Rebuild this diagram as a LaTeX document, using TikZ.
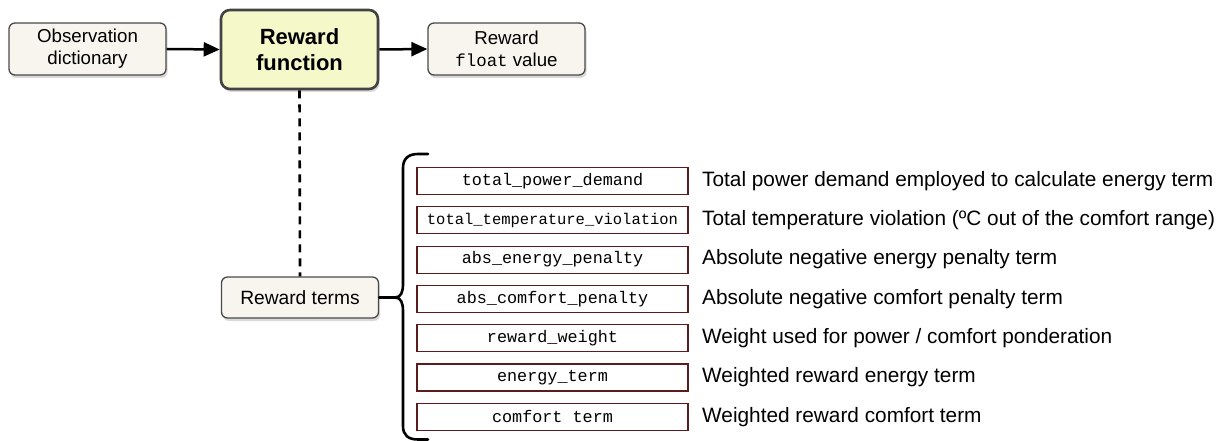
\documentclass[tikz,border=0pt]{standalone}
\usepackage{fontspec}
\setmainfont{Liberation Sans}
\setmonofont{Liberation Mono}
\usetikzlibrary{arrows.meta,shadows}
\definecolor{boxfill}{HTML}{F7F5EE}
\definecolor{boxline}{HTML}{4A4A4A}
\definecolor{rffill}{HTML}{F5F8C8}
\definecolor{termline}{HTML}{5A1C1C}
\tikzset{
  x=1pt,y=-1pt,
  softshadow/.style={drop shadow={shadow xshift=1.5pt,shadow yshift=-3pt,opacity=0.25,fill=black!60}},
  infobox/.style={draw=boxline,line width=1.3pt,fill=boxfill,rounded corners=6pt,
    minimum width=157pt,minimum height=52pt,align=center,font=\fontsize{18.7}{22}\selectfont,
    inner sep=0pt,softshadow},
  rfbox/.style={draw=boxline!90!black,line width=2.6pt,fill=rffill,rounded corners=9pt,
    minimum width=157pt,minimum height=79pt,align=center,font=\fontsize{22}{26}\selectfont\bfseries,
    inner sep=0pt,softshadow},
  termbox/.style={draw=termline,line width=1.2pt,fill=white,minimum width=271pt,minimum height=27pt,
    inner sep=0pt,font=\fontsize{16.8}{18}\ttfamily},
  desc/.style={anchor=west,inner sep=0pt,font=\fontsize{20.8}{24}\selectfont},
  flow/.style={line width=2.5pt,-{Triangle[length=16pt,width=14pt]}},
  dashline/.style={line width=2.6pt,dash pattern=on 8pt off 6pt},
  bracepath/.style={line width=2.6pt,line cap=round}
}
\begin{document}
\begin{tikzpicture}
\useasboundingbox (0,0) rectangle (1224,441);
\node[infobox] (obs) at (87.5,49) {Observation\\dictionary};
\node[rfbox] (rf) at (299.5,49.5) {Reward\\function};
\node[infobox] (out) at (506.5,49) {Reward\\{\fontsize{17.4}{22}\ttfamily float} value};
\node[infobox,minimum height=41pt,font=\fontsize{19.2}{22}\selectfont] (rt) at (300,297.5) {Reward terms};
\draw[flow] (obs.east) -- (rf.west);
\draw[flow] (rf.east) -- (out.west);
\draw[dashline] (rf.south) -- (rt.north);

\coordinate (tip) at (395,297.5);
\coordinate (btop) at (428,154);
\coordinate (bbot) at (428,439.5);
\draw[bracepath] (rt.east) -- (tip) .. controls (401,297.5) and (403,292) .. (403,284) -- (403,168)
  .. controls (403,159) and (408,154) .. (418,154) -- (btop);
\draw[bracepath] (tip) .. controls (401,297.5) and (403,303) .. (403,311) -- (403,426)
  .. controls (403,435) and (408,439.5) .. (418,439.5) -- (bbot);

\foreach \i/\name/\txt/\d in {
  0/t0/{total\_power\_demand}/{Total power demand employed to calculate energy term},
  1/t1/{\fontsize{15.5}{18}\selectfont total\_temperature\_violation}/{Total temperature violation (ºC out of the comfort range)},
  2/t2/{abs\_energy\_penalty}/{Absolute negative energy penalty term},
  3/t3/{abs\_comfort\_penalty}/{Absolute negative comfort penalty term},
  4/t4/{reward\_weight}/{Weight used for power / comfort ponderation},
  5/t5/{energy\_term}/{Weighted reward energy term},
  6/t6/{comfort term}/{Weighted reward comfort term}}{
  \node[termbox] (\name) at (552.5,181+39.3*\i) {\txt};
  \node[desc] (d\name) at (702,181+39.3*\i) {\d};
}
\end{tikzpicture}
\end{document}
